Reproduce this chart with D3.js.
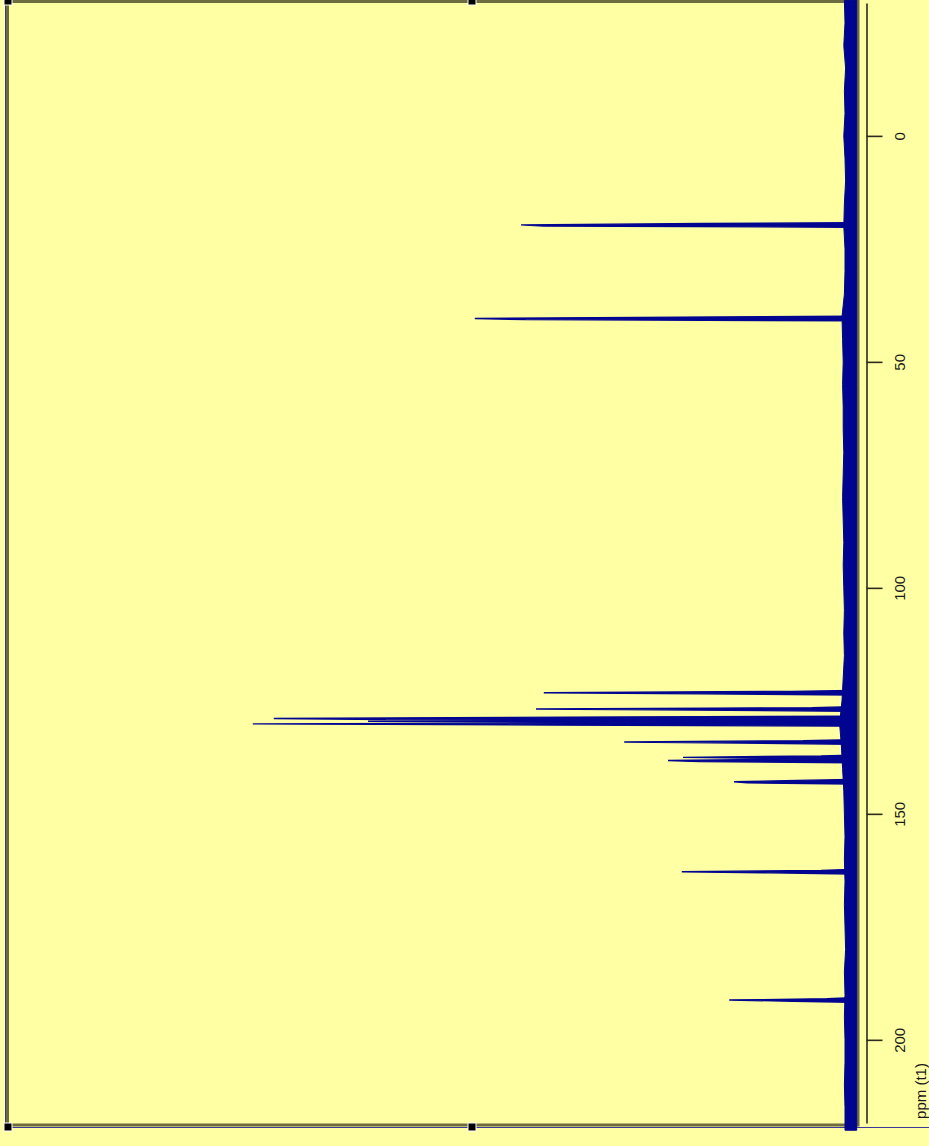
<!DOCTYPE html>
<html>
<head>
<meta charset="utf-8">
<script src="https://cdn.jsdelivr.net/npm/d3@7"></script>
<style>
  html, body { margin: 0; padding: 0; background: #ffffa3; overflow: hidden; }
  svg { display: block; }
</style>
</head>
<body>
<div id="spectrum"></div>
<script>
// 13C spectrum, drawn rotated: ppm runs down the right axis, intensity grows to the left
var svgWidth = 929;
var svgHeight = 1146;

// peak positions (ppm) and the heights of the three data points that make each line
var peakPpm  = [19.7, 40.4, 123.2, 126.8, 128.9, 129.5, 130.1, 134.1, 137.5, 138.2, 142.9, 162.8, 191.2];
var peakTop  = [55.0, 62.7,  51.2,  52.5,  96.2,  80.5,  99.7,  37.8,  28.0,  30.5,  19.5,  28.2,  20.3];
var peakMid  = [51.2, 54.2,  25.2,  26.0,  77.5,  50.0,  50.2,  18.5,  13.8,  25.2,  17.3,  13.5,   9.7];
var peakLow  = [24.8, 28.5,  10.0,   6.5,  47.0,  20.0,  25.0,   8.0,   5.0,  10.0,   9.0,   5.0,   4.0];

// baseline noise band, every 5 ppm from -30 to 220
var noisePpm = d3.range(-30, 221, 5);
var noiseLeft = [1.1, 1.0, 1.2, 0.9, 1.1, 1.0, 1.2, 1.0, 0.9, 1.1, 1.2, 1.0, 1.0, 1.1,
                 1.5, 1.4, 1.3, 1.4, 1.3, 1.3, 1.2, 1.3, 1.4, 1.3, 1.2, 1.3, 1.2,
                 1.1, 1.2, 1.1, 1.3, 1.5, 1.9, 1.6, 1.4, 1.2, 1.1, 1.0, 1.1, 1.0,
                 1.1, 1.0, 0.9, 1.1, 1.0, 1.1, 1.0, 1.0, 1.1, 1.0, 1.0];
var noiseRight = noisePpm.map(function() { return -0.95; });

var majorTicks = [0, 50, 100, 150, 200];
var minorTicks = d3.range(-20, 220, 10);

var svg = d3.select("#spectrum")
  .append("svg")
  .attr("width", svgWidth)
  .attr("height", svgHeight);

var yScale = d3.scaleLinear()
  .domain([-29.4, 218.4])
  .range([3, 1123]);

var xScale = d3.scaleLinear()
  .domain([0, 100])
  .range([851, 251]);

var blue = "#00058f";
var olive = "#6c6c3e";

// plot frame (selection box)
svg.append("rect")
  .attr("x", 7.5)
  .attr("y", 1.5)
  .attr("width", 850.5)
  .attr("height", 1123.5)
  .attr("fill", "none")
  .attr("stroke", olive)
  .attr("stroke-width", 3);

svg.append("line")
  .attr("x1", 5.5).attr("x2", 5.5)
  .attr("y1", 2).attr("y2", 1127)
  .attr("stroke", "#3a3a9a")
  .attr("stroke-width", 1);

svg.append("line")
  .attr("x1", 5).attr("x2", 929)
  .attr("y1", 1127.5).attr("y2", 1127.5)
  .attr("stroke", "#3a3a9a")
  .attr("stroke-width", 1);

// baseline noise band
var band = d3.area()
  .y(function(d, i) { return yScale(noisePpm[i]); })
  .x0(function(d, i) { return xScale(noiseLeft[i]); })
  .x1(function(d, i) { return xScale(noiseRight[i]); });

svg.append("path")
  .datum(noisePpm)
  .attr("d", band)
  .attr("fill", blue)
  .attr("stroke", blue)
  .attr("stroke-width", 1);

// peaks
var peakLine = d3.line()
  .x(function(d) { return xScale(d[1]); })
  .y(function(d) { return yScale(d[0]); });

svg.selectAll(".peak")
  .data(peakPpm)
  .enter()
  .append("path")
  .attr("class", "peak")
  .attr("d", function(p, i) {
    return peakLine([
      [p - 0.5, 0],
      [p - 0.3, peakLow[i]],
      [p, peakTop[i]],
      [p + 0.25, peakMid[i]],
      [p + 0.5, 0]
    ]);
  })
  .attr("fill", blue)
  .attr("stroke", blue)
  .attr("stroke-width", 1.4)
  .attr("stroke-linejoin", "bevel");

// ppm axis on the right
var axisGroup = svg.append("g")
  .attr("transform", "translate(866.5, 0)");

axisGroup.call(d3.axisRight(yScale)
  .tickValues(minorTicks)
  .tickSize(8)
  .tickSizeOuter(0)
  .tickFormat(""));

axisGroup.call(d3.axisRight(yScale)
  .tickValues(majorTicks)
  .tickSize(16)
  .tickSizeOuter(0));

axisGroup.selectAll("path, line")
  .attr("stroke", "#2b2b1e")
  .attr("stroke-width", 1.6);

axisGroup.selectAll("text")
  .attr("x", 0)
  .attr("dy", "0.35em")
  .attr("transform", "translate(33, 0) rotate(-90)")
  .attr("text-anchor", "middle")
  .attr("fill", "#1a1a1a")
  .attr("font-family", "Liberation Sans, Arial, sans-serif")
  .attr("font-size", "15px");

svg.append("text")
  .attr("transform", "translate(921, 1091) rotate(-90)")
  .attr("dy", "0.35em")
  .attr("text-anchor", "middle")
  .attr("fill", "#1a1a1a")
  .attr("font-family", "Liberation Sans, Arial, sans-serif")
  .attr("font-size", "15px")
  .text("ppm (t1)");

// selection handles
var handleX = [8, 8, 472, 472];
var handleY = [1, 1127, 1127, 1];
svg.selectAll(".handle")
  .data(handleX)
  .enter()
  .append("rect")
  .attr("class", "handle")
  .attr("x", function(d) { return d - 4; })
  .attr("y", function(d, i) { return handleY[i] - 4; })
  .attr("width", 8)
  .attr("height", 8)
  .attr("fill", "#000")
  .attr("stroke", "#fff")
  .attr("stroke-width", 1);
</script>
</body>
</html>
